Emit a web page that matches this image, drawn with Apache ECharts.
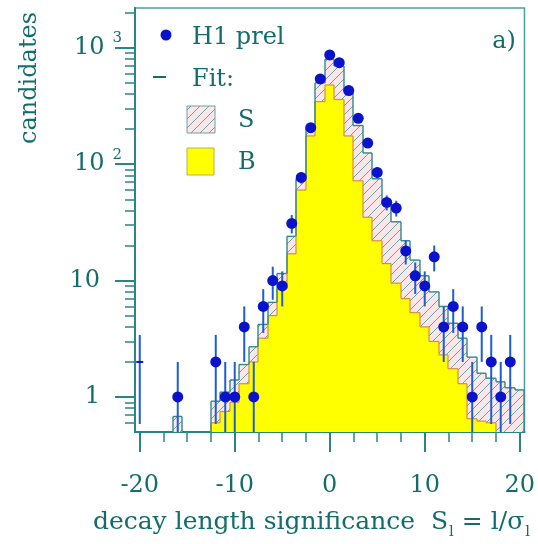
<!DOCTYPE html>
<html>
<head>
<meta charset="utf-8">
<script src="https://cdn.jsdelivr.net/npm/echarts@6/dist/echarts.min.js"></script>
<style>
  html, body { margin: 0; padding: 0; background: #ffffff; }
  #chart { width: 538px; height: 544px; }
</style>
</head>
<body>
<div id="chart"></div>
<script>
// Bin centres of the decay length significance histogram (bin width 1)
const bins = [-20, -19, -18, -17, -16, -15, -14, -13, -12, -11, -10, -9, -8, -7, -6, -5, -4, -3, -2, -1,
              0, 1, 2, 3, 4, 5, 6, 7, 8, 9, 10, 11, 12, 13, 14, 15, 16, 17, 18, 19, 20];

// H1 preliminary candidates per bin
const counts = [2, 0, 0, 0, 1, 0, 0, 0, 2, 1, 1, 4, 1, 6, 10, 9, 31, 77, 206, 541,
                870, 745, 430, 248, 152, 85, 47, 42, 18, 11, 9, 16, 4, 6, 4, 1, 4, 2, 1, 2, 0];

// Fit: signal + background (S+B)
const fitTotal = [0, 0, 0, 0, 0.68, 0, 0, 0, 0.92, 1.1, 1.4, 1.9, 2.7, 4.2, 6.5, 11.5, 24, 75, 205, 500,
                  800, 700, 420, 215, 125, 75, 46, 32, 22, 15, 11, 8, 6, 4.3, 3.2, 2.2, 1.6, 1.45, 1.35, 1.2, 1.15];

// Fit: background only (B)
const fitBkg = [0, 0, 0, 0, 0, 0, 0, 0, 0.6, 0.75, 0.9, 1.3, 2.0, 3.2, 5.0, 8.5, 17, 60, 175, 345,
                480, 360, 175, 72, 35, 22, 14, 9.5, 7, 5.3, 4.0, 3.0, 2.3, 1.75, 1.3, 0.65, 0.62, 0.6, 0, 0, 0];

// Axis ticks and labels
const xMajorTicks = [-20, -10, 0, 10, 20];
const xMinorTicks = [-17.5, -15, -12.5, -7.5, -5, -2.5, 2.5, 5, 7.5, 12.5, 15, 17.5];
const yMajorTicks = [1, 10, 100, 1000];
const yMajorLabels = ['1', '10', '10|2', '10|3'];
const yMinorTicks = [0.6, 0.7, 0.8, 0.9, 2, 3, 4, 5, 6, 7, 8, 9, 20, 30, 40, 50, 60, 70, 80, 90,
                     200, 300, 400, 500, 600, 700, 800, 900, 2000];

const X_MIN = -20.5, X_MAX = 20.5, Y_MIN = 0.5, Y_MAX = 2200, BIN_HALF = 0.5;

const INK = '#146d6d';
const AXIS = '#2a8585';
const YELLOW = '#ffff00';
const BKG_EDGE = '#dd8c3c';
const TOT_EDGE = '#2f8a8a';
const DOT = '#0a12cc';
const ERR = '#1d5ed0';
const FONT = '"DejaVu Serif", "Liberation Serif", serif';

// Diagonal hatch used for the signal component
function makeHatch() {
  const s = 9;
  const c = document.createElement('canvas');
  c.width = s; c.height = s;
  const g = c.getContext('2d');
  g.fillStyle = '#fce6e8';
  g.fillRect(0, 0, s, s);
  g.strokeStyle = '#6aa3a3';
  g.lineWidth = 1;
  g.beginPath();
  g.moveTo(-1, s + 1); g.lineTo(s + 1, -1);
  g.moveTo(-1, 1); g.lineTo(1, -1);
  g.moveTo(s - 1, s + 1); g.lineTo(s + 1, s - 1);
  g.stroke();
  return { image: c, repeat: 'repeat' };
}
const hatch = makeHatch();

// Histogram items: [centre, total, bkg, prevTotal, prevBkg, isLast]
const histData = bins.map((b, i) => [
  b, fitTotal[i], fitBkg[i],
  i > 0 ? fitTotal[i - 1] : 0,
  i > 0 ? fitBkg[i - 1] : 0,
  i === bins.length - 1 ? 1 : 0
]);

function histItem(params, api) {
  const x = api.value(0), tot = api.value(1), bkg = api.value(2);
  const pTot = api.value(3), pBkg = api.value(4), isLast = api.value(5);
  const yBase = api.coord([x, Y_MIN])[1];
  const yOf = v => (v > 0 ? api.coord([x, v])[1] : yBase);
  // snap bin edges to whole pixels so neighbouring bins join without seams
  const left = Math.round(api.coord([x - BIN_HALF, Y_MIN])[0]);
  const right = Math.round(api.coord([x + BIN_HALF, Y_MIN])[0]);
  const yT = yOf(tot), yB = yOf(bkg), yPT = yOf(pTot), yPB = yOf(pBkg);
  const kids = [];
  const seg = (x1, y1, x2, y2, color, w) => ({
    type: 'line', shape: { x1, y1, x2, y2 },
    style: { stroke: color, lineWidth: w }
  });
  if (bkg > 0) {
    kids.push({ type: 'rect', shape: { x: left, y: yB, width: right - left, height: yBase - yB },
                style: { fill: YELLOW } });
  }
  if (tot > bkg) {
    kids.push({ type: 'rect', shape: { x: left, y: yT, width: right - left, height: yB - yT },
                style: { fill: hatch } });
  }
  // background outline
  if (bkg > 0) kids.push(seg(left, yB, right, yB, BKG_EDGE, 1.2));
  if (yPB !== yB) kids.push(seg(left, yPB, left, yB, BKG_EDGE, 1.2));
  if (isLast && bkg > 0) kids.push(seg(right, yB, right, yBase, BKG_EDGE, 1.2));
  // total outline
  if (tot > 0) kids.push(seg(left, yT, right, yT, TOT_EDGE, 1.4));
  if (yPT !== yT) kids.push(seg(left, yPT, left, yT, TOT_EDGE, 1.4));
  if (isLast && tot > 0) kids.push(seg(right, yT, right, yBase, TOT_EDGE, 1.4));
  return { type: 'group', children: kids };
}

// Data points with Poisson (sqrt N) error bars
const pointData = [];
const errData = [];
bins.forEach((b, i) => {
  const n = counts[i];
  if (n <= 0) return;
  const e = Math.sqrt(n);
  errData.push([b, Math.max(n - e, Y_MIN), n + e]);
  if (b === X_MIN + BIN_HALF) {
    pointData.push({ value: [b, n], symbol: 'rect', symbolSize: [7, 2] });
  } else {
    pointData.push([b, n]);
  }
});

function errItem(params, api) {
  const top = api.coord([api.value(0), api.value(2)]);
  const bot = api.coord([api.value(0), api.value(1)]);
  return { type: 'line', shape: { x1: top[0], y1: top[1], x2: bot[0], y2: bot[1] },
           style: { stroke: ERR, lineWidth: 2 } };
}

function yLabel(val) {
  const k = Math.round(Math.log10(val));
  const idx = yMajorTicks.findIndex(t => Math.round(Math.log10(t)) === k);
  const parts = (yMajorLabels[idx] || '').split('|');
  if (parts.length > 1) return '{b|' + parts[0] + '}{sup|' + parts[1] + '}';
  return '{b|' + parts[0] + '}{pad|}';
}

const chart = echarts.init(document.getElementById('chart'), null, { renderer: 'canvas' });

chart.setOption({
  animation: false,
  backgroundColor: '#ffffff',
  grid: {
    left: 135, right: 10, top: 8, bottom: 112,
    show: true, borderColor: '#4aa0a0', borderWidth: 1.5, backgroundColor: 'transparent'
  },
  xAxis: [
    {
      type: 'value', min: X_MIN, max: X_MAX, position: 'bottom', gridIndex: 0,
      axisLine: { show: true, onZero: false, lineStyle: { color: AXIS, width: 2 } },
      axisTick: { show: true, customValues: xMajorTicks, length: 20, lineStyle: { color: AXIS, width: 2 } },
      axisLabel: { customValues: xMajorTicks, margin: 42, color: INK, fontFamily: FONT, fontSize: 24 },
      splitLine: { show: false }
    },
    {
      type: 'value', min: X_MIN, max: X_MAX, position: 'bottom', gridIndex: 0,
      axisLine: { show: false, onZero: false },
      axisTick: { show: true, customValues: xMinorTicks, length: 10, lineStyle: { color: AXIS, width: 1.5 } },
      axisLabel: { show: false },
      splitLine: { show: false }
    }
  ],
  yAxis: [
    {
      type: 'log', logBase: 10, min: Y_MIN, max: Y_MAX, position: 'left', gridIndex: 0,
      axisLine: { show: true, onZero: false, lineStyle: { color: AXIS, width: 2 } },
      axisTick: { show: true, customValues: yMajorTicks, length: 20, lineStyle: { color: AXIS, width: 2 } },
      axisLabel: {
        customValues: yMajorTicks, margin: 13, formatter: yLabel,
        rich: {
          b: { color: INK, fontFamily: FONT, fontSize: 24, lineHeight: 34 },
          sup: { color: INK, fontFamily: FONT, fontSize: 15, lineHeight: 15, verticalAlign: 'top', padding: [0, 0, 0, 8] },
          pad: { width: 22, lineHeight: 34 }
        }
      },
      splitLine: { show: false }
    },
    {
      type: 'log', logBase: 10, min: Y_MIN, max: Y_MAX, position: 'left', gridIndex: 0,
      axisLine: { show: false, onZero: false },
      axisTick: { show: true, customValues: yMinorTicks, length: 10, lineStyle: { color: AXIS, width: 1.5 } },
      axisLabel: { show: false },
      splitLine: { show: false }
    }
  ],
  series: [
    {
      type: 'custom', name: 'Fit', xAxisIndex: 0, yAxisIndex: 0,
      renderItem: histItem, data: histData, encode: { x: 0, y: 1 }, clip: true, z: 1
    },
    {
      type: 'custom', name: 'errors', xAxisIndex: 0, yAxisIndex: 0,
      renderItem: errItem, data: errData, encode: { x: 0, y: [1, 2] }, clip: true, z: 3
    },
    {
      type: 'scatter', name: 'H1 prel', xAxisIndex: 0, yAxisIndex: 0,
      data: pointData, symbol: 'circle', symbolSize: 11,
      itemStyle: { color: DOT, opacity: 1 }, z: 4
    }
  ],
  graphic: [
    { type: 'text', x: 30, y: 78, rotation: Math.PI / 2,
      style: { text: 'candidates', fill: INK, font: '24px ' + FONT, textAlign: 'center', textVerticalAlign: 'middle' } },
    { type: 'text', right: 8, top: 510,
      style: {
        text: '{t|decay length significance  S}{sub|l}{t| = l/σ}{sub|l}',
        rich: {
          t: { fill: INK, fontFamily: FONT, fontSize: 25, lineHeight: 34 },
          sub: { fill: INK, fontFamily: FONT, fontSize: 15, lineHeight: 15, verticalAlign: 'bottom', padding: [0, 0, 0, 1] }
        }
      } },
    // legend
    { type: 'circle', shape: { cx: 166, cy: 35, r: 5.5 }, style: { fill: DOT } },
    { type: 'text', x: 192, y: 38, style: { text: 'H1 prel', fill: INK, font: '24px ' + FONT, textVerticalAlign: 'middle' } },
    { type: 'line', shape: { x1: 153, y1: 77, x2: 166, y2: 77 }, style: { stroke: INK, lineWidth: 2 } },
    { type: 'text', x: 192, y: 80, style: { text: 'Fit:', fill: INK, font: '24px ' + FONT, textVerticalAlign: 'middle' } },
    { type: 'rect', shape: { x: 187, y: 106, width: 28, height: 27 }, style: { fill: hatch, stroke: '#6aa3a3', lineWidth: 1 } },
    { type: 'text', x: 238, y: 121, style: { text: 'S', fill: INK, font: '24px ' + FONT, textVerticalAlign: 'middle' } },
    { type: 'rect', shape: { x: 187, y: 148, width: 27, height: 27 }, style: { fill: YELLOW, stroke: '#b9b24a', lineWidth: 1 } },
    { type: 'text', x: 238, y: 163, style: { text: 'B', fill: INK, font: '24px ' + FONT, textVerticalAlign: 'middle' } },
    { type: 'text', x: 504, y: 42, style: { text: 'a)', fill: INK, font: '24px ' + FONT, textAlign: 'center', textVerticalAlign: 'middle' } }
  ]
});
</script>
</body>
</html>
